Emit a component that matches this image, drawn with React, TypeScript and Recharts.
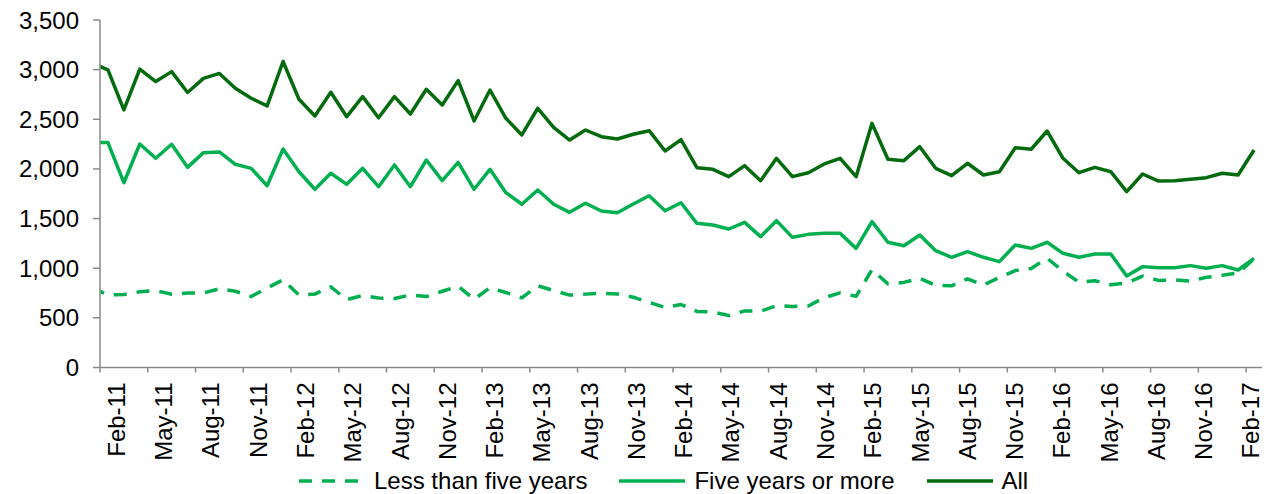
import React from 'react';
import { LineChart, Line, XAxis, YAxis, Legend } from 'recharts';

// Monthly figures, Jan-11 through Feb-17 (Jan-11 sits just left of the axis start)
const lessThanFive = [
  800, 733, 735, 762, 775, 738, 750, 750, 793, 768, 715, 800, 883,
  730, 740, 812, 684, 725, 700, 695, 731, 714, 768, 818, 688,
  803, 755, 702, 823, 775, 729, 739, 748, 741, 708, 656, 604,
  634, 565, 558, 523, 570, 566, 623, 615, 620, 703, 751, 717,
  986, 842, 857, 898, 826, 823, 893, 830, 907, 976, 998, 1100,
  970, 860, 874, 834, 852, 920, 877, 882, 871, 908, 929, 952,
  1095,
];

const fiveOrMore = [
  2265, 2265, 1861, 2251, 2107, 2248, 2016, 2164, 2171, 2047, 2006, 1831, 2201,
  1972, 1795, 1956, 1845, 2006, 1821, 2040, 1821, 2090, 1882, 2067, 1795,
  1996, 1761, 1644, 1788, 1644, 1563, 1654, 1576, 1559, 1647, 1730, 1579,
  1659, 1452, 1435, 1395, 1462, 1318, 1479, 1311, 1341, 1351, 1351, 1200,
  1469, 1261, 1227, 1335, 1177, 1110, 1167, 1110, 1066, 1234, 1200, 1261,
  1150, 1110, 1143, 1143, 922, 1016, 1005, 1005, 1026, 999, 1026, 982,
  1100,
];

const allYears = [
  3065, 2998, 2595, 3005, 2880, 2980, 2770, 2912, 2962, 2812, 2712, 2635, 3082,
  2702, 2533, 2772, 2526, 2728, 2515, 2728, 2553, 2802, 2644, 2889, 2483,
  2795, 2510, 2342, 2611, 2419, 2291, 2392, 2325, 2301, 2349, 2385, 2181,
  2295, 2012, 1996, 1922, 2033, 1881, 2107, 1922, 1962, 2050, 2107, 1922,
  2459, 2097, 2083, 2224, 2006, 1932, 2057, 1939, 1972, 2214, 2198, 2382,
  2107, 1962, 2016, 1972, 1771, 1949, 1878, 1881, 1895, 1912, 1956, 1939,
  2191,
];

const tickLabels = [
  'Feb-11', 'May-11', 'Aug-11', 'Nov-11',
  'Feb-12', 'May-12', 'Aug-12', 'Nov-12',
  'Feb-13', 'May-13', 'Aug-13', 'Nov-13',
  'Feb-14', 'May-14', 'Aug-14', 'Nov-14',
  'Feb-15', 'May-15', 'Aug-15', 'Nov-15',
  'Feb-16', 'May-16', 'Aug-16', 'Nov-16',
  'Feb-17',
];

const yTicks = [0, 500, 1000, 1500, 2000, 2500, 3000, 3500];

// x is months since 1 Feb 2011; each reading is plotted mid-month
const data = allYears.map((v, i) => ({
  t: i - 0.5,
  less: lessThanFive[i],
  five: fiveOrMore[i],
  all: v,
}));

const FONT = '"Liberation Sans", Arial, sans-serif';
const LIGHT = '#00b050';
const DARK = '#046a0e';
const AXIS = '#8a8a8a';
const DASH = '13 10';

const XTick = (props: any) => {
  const { x, y, payload } = props;
  const v = payload.value as number;
  // labels drift slightly against the tick marks across the axis
  const shift = 16.5 - 11.5 * (v / 72);
  return (
    <g transform={`translate(${x + shift},${y})`}>
      <text transform="rotate(-90)" textAnchor="end" dy="0.35em" fontSize={24} fill="#000" fontFamily={FONT}>
        {tickLabels[v / 3]}
      </text>
    </g>
  );
};

const legendItems = [
  { label: 'Less than five years', color: LIGHT, dash: DASH },
  { label: 'Five years or more', color: LIGHT, dash: undefined },
  { label: 'All', color: DARK, dash: undefined },
];

const LegendBox = () => (
  <div
    style={{
      display: 'flex',
      alignItems: 'center',
      height: 32,
      paddingLeft: 299,
      transform: 'translateY(3px)',
      fontFamily: FONT,
      fontSize: 24,
      color: '#000',
    }}
  >
    {legendItems.map((it) => (
      <div key={it.label} style={{ display: 'flex', alignItems: 'center', marginRight: 32 }}>
        <svg width={66} height={32}>
          <line x1={0} x2={66} y1={16} y2={16} stroke={it.color} strokeWidth={3.5} strokeDasharray={it.dash} />
        </svg>
        <span style={{ marginLeft: 9, lineHeight: '32px', whiteSpace: 'nowrap' }}>{it.label}</span>
      </div>
    ))}
  </div>
);

export default function App() {
  return (
    <div style={{ position: 'absolute', left: 0, top: 0, width: 1277, height: 494, background: '#fff' }}>
      <LineChart width={1277} height={494} data={data} margin={{ top: 20, right: 15, bottom: 0, left: 0 }}>
        <XAxis
          type="number"
          dataKey="t"
          domain={[0, 73]}
          allowDataOverflow
          ticks={tickLabels.map((_, i) => i * 3)}
          interval={0}
          height={94.5}
          tickSize={5}
          tickMargin={10}
          tick={<XTick />}
          axisLine={{ stroke: AXIS, strokeWidth: 1.5 }}
          tickLine={{ stroke: AXIS, strokeWidth: 1.5 }}
        />
        <YAxis
          width={100}
          domain={[0, 3500]}
          ticks={yTicks}
          interval={0}
          tickSize={7}
          tickMargin={14}
          tickFormatter={(v: number) => v.toLocaleString('en-US')}
          tick={{ fontSize: 24, fill: '#000', fontFamily: FONT }}
          axisLine={{ stroke: AXIS, strokeWidth: 1.5 }}
          tickLine={{ stroke: AXIS, strokeWidth: 1.5 }}
        />
        <Legend verticalAlign="bottom" height={32} content={<LegendBox />} />
        <Line
          dataKey="less"
          name="Less than five years"
          stroke={LIGHT}
          strokeWidth={3.5}
          strokeDasharray={DASH}
          strokeLinejoin="round"
          dot={false}
          activeDot={false}
          type="linear"
          isAnimationActive={false}
        />
        <Line
          dataKey="five"
          name="Five years or more"
          stroke={LIGHT}
          strokeWidth={3.5}
          strokeLinejoin="round"
          dot={false}
          activeDot={false}
          type="linear"
          isAnimationActive={false}
        />
        <Line
          dataKey="all"
          name="All"
          stroke={DARK}
          strokeWidth={3.5}
          strokeLinejoin="round"
          dot={false}
          activeDot={false}
          type="linear"
          isAnimationActive={false}
        />
      </LineChart>
    </div>
  );
}
